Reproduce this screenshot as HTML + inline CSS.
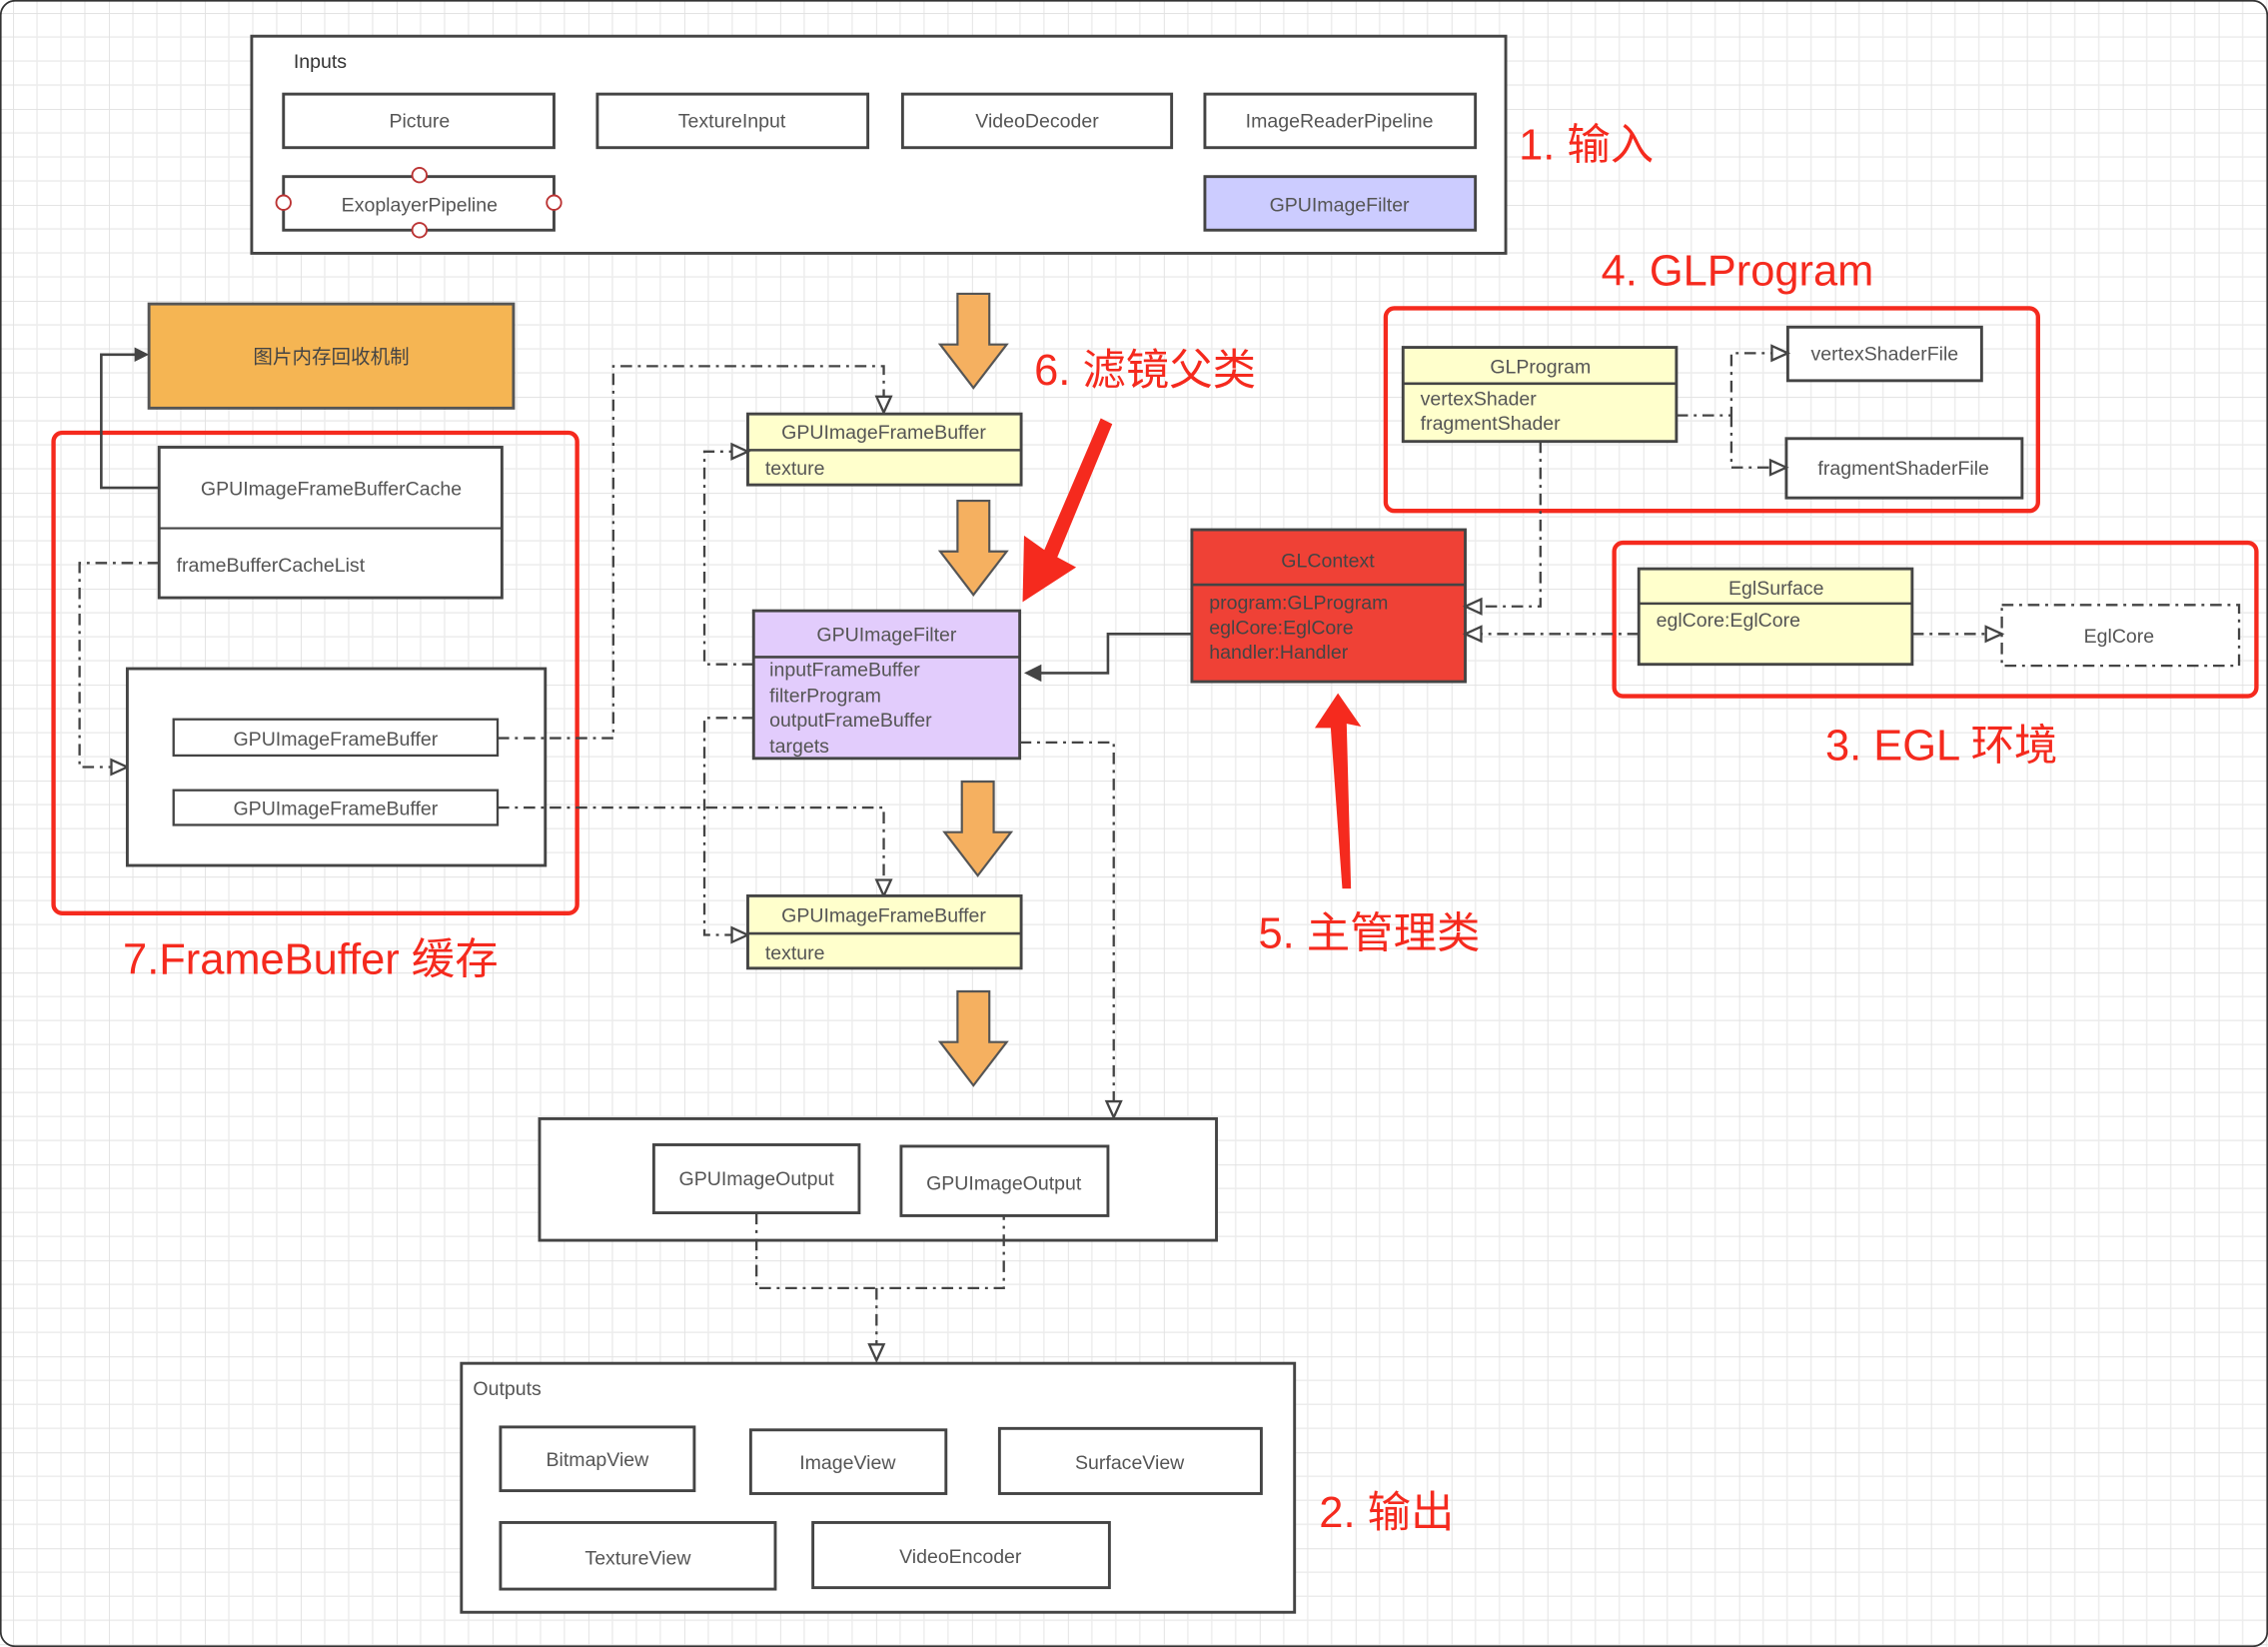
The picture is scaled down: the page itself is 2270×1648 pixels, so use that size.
<!DOCTYPE html>
<html><head><meta charset="utf-8"><style>
html,body{margin:0;padding:0;background:#fff;}
svg{display:block;}
text{font-family:"Liberation Sans","Noto Sans CJK SC",sans-serif;}
.t{font-size:13.5px;fill:#555;}
.c{text-anchor:middle;}
.r{fill:#f52a1e;font-size:30px;}
.b{fill:#fff;stroke:#444;stroke-width:2;}
.dd{fill:none;stroke:#444;stroke-width:1.6;stroke-dasharray:8 4 2 4;}
.s{fill:none;stroke:#444;stroke-width:1.8;}
.ha{fill:#fff;stroke:#444;stroke-width:1.6;}
.red{fill:none;stroke:#f52a1e;stroke-width:3;}
.oa{fill:#f5b060;stroke:#555;stroke-width:1.5;}
</style></head><body>
<svg width="2270" height="1648" viewBox="0 0 1568 1138" preserveAspectRatio="none" xmlns="http://www.w3.org/2000/svg">
<defs>
<pattern id="g" x="9" y="9" width="66.3" height="66.3" patternUnits="userSpaceOnUse">
<path d="M0 0V66.3M16.58 0V66.3M33.15 0V66.3M49.7 0V66.3M0 0H66.3M0 16.58H66.3M0 33.15H66.3M0 49.7H66.3" stroke="#ececec" stroke-width="1"/>
<path d="M0 0V66.3M0 0H66.3" stroke="#e2e2e2" stroke-width="1.3"/>
</pattern>
</defs>
<rect width="1568" height="1138" fill="#fff"/>
<rect width="1568" height="1138" fill="url(#g)"/>
<rect x="0.5" y="0.5" width="1567" height="1137" rx="10" fill="none" stroke="#333" stroke-width="1.2"/>

<!-- Inputs -->
<rect class="b" x="174" y="25" width="867" height="150"/>
<text x="203" y="47" class="t" style="fill:#333">Inputs</text>
<rect class="b" x="196" y="65" width="187" height="37"/><text class="t c" x="290" y="88">Picture</text>
<rect class="b" x="413" y="65" width="187" height="37"/><text class="t c" x="506" y="88">TextureInput</text>
<rect class="b" x="624" y="65" width="186" height="37"/><text class="t c" x="717" y="88">VideoDecoder</text>
<rect class="b" x="833" y="65" width="187" height="37"/><text class="t c" x="926" y="88">ImageReaderPipeline</text>
<rect class="b" x="196" y="122" width="187" height="37"/><text class="t c" x="290" y="146">ExoplayerPipeline</text>
<g fill="#fff" stroke="#b33" stroke-width="1.3"><circle cx="290" cy="121" r="5"/><circle cx="196" cy="140" r="5"/><circle cx="383" cy="140" r="5"/><circle cx="290" cy="159" r="5"/></g>
<rect class="b" x="833" y="122" width="187" height="37" style="fill:#ccccff"/><text class="t c" x="926" y="146">GPUImageFilter</text>
<text class="r" x="1050" y="110">1. 输入</text>

<!-- orange arrows -->
<g class="oa">
<path d="M662 203H684V238H696L673 268L650 238H662Z"/>
<path d="M662 346H684V381H696L673 411L650 381H662Z"/>
<path d="M665 540H687V575H699L676 605L653 575H665Z"/>
<path d="M662 685H684V720H696L673 750L650 720H662Z"/>
</g>

<!-- memory box -->
<rect x="103" y="210" width="252" height="72" fill="#f5b553" stroke="#555" stroke-width="2"/>
<text class="t c" x="229" y="251" style="fill:#444">图片内存回收机制</text>

<!-- framebuffer cache -->
<rect class="red" x="37" y="299" width="362" height="332" rx="6"/>
<rect class="b" x="110" y="309" width="237" height="104"/>
<line x1="110" y1="365" x2="347" y2="365" stroke="#444" stroke-width="1.5"/>
<text class="t c" x="229" y="342">GPUImageFrameBufferCache</text>
<text class="t" x="122" y="395">frameBufferCacheList</text>
<path class="s" d="M110 337H70V245H96"/>
<path d="M103 245L93 240V250Z" fill="#444"/>
<path class="dd" d="M110 389H55V530H78"/>
<path class="ha" d="M88 530L77 525V535Z"/>
<rect class="b" x="88" y="462" width="289" height="136"/>
<rect class="b" x="120" y="497" width="224" height="25" style="stroke-width:1.6"/><text class="t c" x="232" y="515">GPUImageFrameBuffer</text>
<rect class="b" x="120" y="546" width="224" height="24" style="stroke-width:1.6"/><text class="t c" x="232" y="563">GPUImageFrameBuffer</text>
<path class="dd" d="M344 510H424V253H611V276"/>
<path class="ha" d="M611 285L606 274H616Z"/>
<path class="dd" d="M344 558H611V609"/>
<path class="ha" d="M611 619L606 608H616Z"/>
<text class="r" x="85" y="673">7.FrameBuffer 缓存</text>

<!-- framebuffer top -->
<rect class="b" x="517" y="286" width="189" height="49" style="fill:#ffffcc"/>
<line x1="517" y1="311" x2="706" y2="311" stroke="#444" stroke-width="1.8"/>
<text class="t c" x="611" y="303">GPUImageFrameBuffer</text>
<text class="t" x="529" y="328">texture</text>
<text class="r" x="715" y="266">6. 滤镜父类</text>

<!-- filter -->
<rect class="b" x="521" y="422" width="184" height="102" style="fill:#e2ccfc"/>
<line x1="521" y1="454" x2="705" y2="454" stroke="#444" stroke-width="1.8"/>
<text class="t c" x="613" y="443">GPUImageFilter</text>
<text class="t" x="532" y="467">inputFrameBuffer</text>
<text class="t" x="532" y="485">filterProgram</text>
<text class="t" x="532" y="502">outputFrameBuffer</text>
<text class="t" x="532" y="520">targets</text>
<path class="dd" d="M521 459H487V312H507"/>
<path class="ha" d="M517 312L506 307V317Z"/>
<path class="dd" d="M521 496H487V646H507"/>
<path class="ha" d="M517 646L506 641V651Z"/>
<path class="dd" d="M705 513H770V762"/>
<path class="ha" d="M770 772L765 761H775Z"/>

<!-- framebuffer bottom -->
<rect class="b" x="517" y="619" width="189" height="50" style="fill:#ffffcc"/>
<line x1="517" y1="645" x2="706" y2="645" stroke="#444" stroke-width="1.8"/>
<text class="t c" x="611" y="637">GPUImageFrameBuffer</text>
<text class="t" x="529" y="663">texture</text>

<!-- red arrows -->
<path d="M761 289L769 293L731 385L744 392L707 416L708 370L722 380Z" fill="#f52a1e"/>
<path d="M928 614L934 614L931 500L941 502L925 479L909 503L920 503Z" fill="#f52a1e"/>

<!-- GLContext -->
<rect x="824" y="366" width="189" height="105" fill="#ef4136" stroke="#444" stroke-width="2"/>
<line x1="824" y1="404" x2="1013" y2="404" stroke="#444" stroke-width="1.8"/>
<text class="t c" x="918" y="392" style="fill:#444">GLContext</text>
<text class="t" x="836" y="421" style="fill:#444">program:GLProgram</text>
<text class="t" x="836" y="438" style="fill:#444">eglCore:EglCore</text>
<text class="t" x="836" y="455" style="fill:#444">handler:Handler</text>
<path class="s" d="M824 438H766V465H718"/>
<path d="M708 465L720 459V471Z" fill="#444"/>
<text class="r" x="870" y="655">5. 主管理类</text>

<!-- GLProgram -->
<text class="r" x="1107" y="197">4. GLProgram</text>
<rect class="red" x="958" y="213" width="451" height="140" rx="6"/>
<rect class="b" x="970" y="240" width="189" height="65" style="fill:#ffffcc"/>
<line x1="970" y1="265" x2="1159" y2="265" stroke="#444" stroke-width="1.8"/>
<text class="t c" x="1065" y="258">GLProgram</text>
<text class="t" x="982" y="280">vertexShader</text>
<text class="t" x="982" y="297">fragmentShader</text>
<rect class="b" x="1236" y="226" width="134" height="37"/><text class="t c" x="1303" y="249">vertexShaderFile</text>
<rect class="b" x="1235" y="303" width="163" height="41"/><text class="t c" x="1316" y="328">fragmentShaderFile</text>
<path class="dd" d="M1159 287H1197V244H1226M1197 287V323H1225"/>
<path class="ha" d="M1236 244L1225 239V249Z"/>
<path class="ha" d="M1235 323L1224 318V328Z"/>
<path class="dd" d="M1065 305V419H1023"/>
<path class="ha" d="M1013 419L1024 414V424Z"/>

<!-- EGL -->
<rect class="red" x="1116" y="375" width="444" height="106" rx="6"/>
<rect class="b" x="1133" y="393" width="189" height="66" style="fill:#ffffcc"/>
<line x1="1133" y1="417" x2="1322" y2="417" stroke="#444" stroke-width="1.8"/>
<text class="t c" x="1228" y="411">EglSurface</text>
<text class="t" x="1145" y="433">eglCore:EglCore</text>
<rect x="1384" y="418" width="164" height="42" fill="#fff" class="dd" style="fill:#fff"/>
<text class="t c" x="1465" y="444">EglCore</text>
<path class="dd" d="M1322 438H1373"/>
<path class="ha" d="M1384 438L1373 433V443Z"/>
<path class="dd" d="M1133 438H1023"/>
<path class="ha" d="M1013 438L1024 433V443Z"/>
<text class="r" x="1262" y="525">3. EGL 环境</text>

<!-- outputs mid -->
<rect class="b" x="373" y="773" width="468" height="84"/>
<rect class="b" x="452" y="791" width="142" height="47"/><text class="t c" x="523" y="819">GPUImageOutput</text>
<rect class="b" x="623" y="792" width="143" height="48"/><text class="t c" x="694" y="822">GPUImageOutput</text>
<path class="dd" d="M523 838V890H694V840M606 890V929"/>
<path class="ha" d="M606 940L601 929H611Z"/>

<!-- Outputs -->
<rect class="b" x="319" y="942" width="576" height="172"/>
<text class="t" x="327" y="964">Outputs</text>
<rect class="b" x="346" y="986" width="134" height="44"/><text class="t c" x="413" y="1013">BitmapView</text>
<rect class="b" x="519" y="988" width="135" height="44"/><text class="t c" x="586" y="1015">ImageView</text>
<rect class="b" x="691" y="987" width="181" height="45"/><text class="t c" x="781" y="1015">SurfaceView</text>
<rect class="b" x="346" y="1052" width="190" height="46"/><text class="t c" x="441" y="1081">TextureView</text>
<rect class="b" x="562" y="1052" width="205" height="45"/><text class="t c" x="664" y="1080">VideoEncoder</text>
<text class="r" x="912" y="1055">2. 输出</text>
</svg>
</body></html>
